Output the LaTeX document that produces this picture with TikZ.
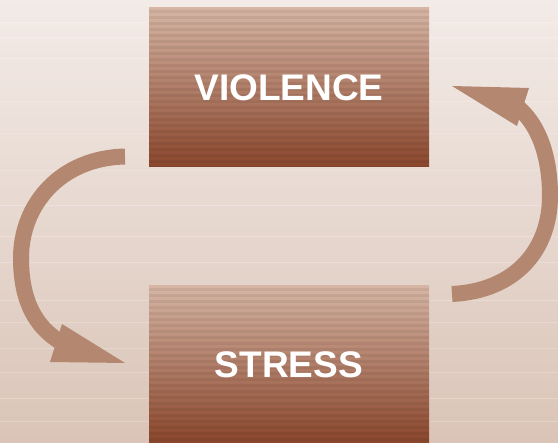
\documentclass[tikz,border=0pt]{standalone}
\usepackage{fontspec}
\setmainfont{Liberation Sans}
\definecolor{bgtop}{RGB}{243,235,231}
\definecolor{bgbot}{RGB}{218,196,183}
\definecolor{boxtop}{RGB}{214,181,164}
\definecolor{boxbot}{RGB}{138,70,44}
\definecolor{arrowc}{RGB}{180,135,112}
\tikzset{
  stripebox/.style={minimum width=280pt, minimum height=159pt, inner sep=0pt,
    top color=boxtop, bottom color=boxbot, draw=none,
    text=white, font=\bfseries\fontsize{37}{40}\selectfont,
    path picture={\foreach \i in {0,...,27}
      \fill[black,opacity=0.06] ([yshift=-\i*6pt-2pt]path picture bounding box.north west) rectangle ++(280pt,-3pt);}},
  shaft/.style={draw=arrowc, line width=16pt, line cap=butt},
  head/.style={fill=arrowc, draw=none}
}
\begin{document}
\begin{tikzpicture}[x=1pt,y=-1pt]
\useasboundingbox (0,0) rectangle (558,443);
\begin{scope}
\clip (0,0) rectangle (558,443);
\shade[top color=bgtop, bottom color=bgbot] (0,0) rectangle (558,443);
\foreach \yy in {22,37,58,101,133,170,205,236,262,300,322,348,372,398,421}
  \draw[white,opacity=0.22,line width=0.6pt] (0,\yy) -- (558,\yy);
\node[stripebox] (violence) at (289,87.5) {VIOLENCE};
\node[stripebox, minimum height=157pt] (stress) at (289,364.5) {STRESS};
% left arrow: VIOLENCE -> STRESS
\coordinate (ls) at (125,156.5);
\coordinate (le) at (68,346);
\coordinate (ltip) at (125,363);
\coordinate (lb1) at (62,324);
\coordinate (lb2) at (50,362);
\draw[shaft] (ls) .. controls (60,158) and (21,205) .. (21,258) .. controls (21,300) and (35,330) .. (le);
\fill[head] (ltip) -- (lb1) -- (lb2) -- cycle;
% right arrow: STRESS -> VIOLENCE
\coordinate (rs) at (452,294);
\coordinate (re) at (512,103);
\coordinate (rtip) at (452,86);
\coordinate (rb1) at (529,88);
\coordinate (rb2) at (517,126);
\draw[shaft] (rs) .. controls (515,291) and (550,250) .. (550,196) .. controls (550,150) and (535,118) .. (re);
\fill[head] (rtip) -- (rb1) -- (rb2) -- cycle;
\end{scope}
\end{tikzpicture}
\end{document}
